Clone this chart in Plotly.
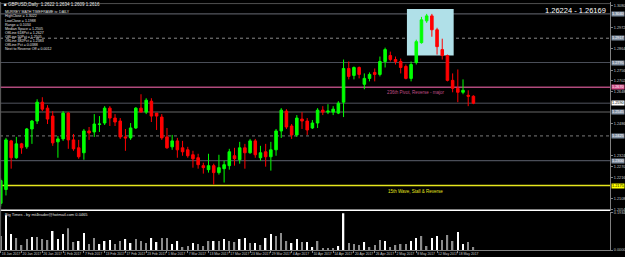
import plotly.graph_objects as go

# ---------------- data ----------------
opens = [1.2085,1.2155,1.2400,1.2315,1.2385,1.2370,1.2460,1.2500,1.2595,1.2565,
         1.2525,1.2395,1.2410,1.2540,1.2405,1.2365,1.2340,1.2450,1.2445,1.2483,
         1.2490,1.2565,1.2515,1.2500,1.2420,1.2415,1.2465,1.2565,1.2545,1.2600,
         1.2540,1.2520,1.2420,1.2370,1.2400,1.2365,1.2355,1.2330,1.2315,1.2275,
         1.2255,1.2275,1.2240,1.2260,1.2275,1.2325,1.2305,1.2365,1.2340,1.2400,
         1.2315,1.2345,1.2320,1.2355,1.2450,1.2550,1.2475,1.2430,1.2510,1.2500,
         1.2465,1.2490,1.2555,1.2545,1.2545,1.2540,1.2595,1.2765,1.2730,1.2770,
         1.2685,1.2715,1.2745,1.2735,1.2800,1.2830,1.2810,1.2800,1.2775,1.2715,
         1.2795,1.2895,1.3005,1.3030,1.2960,1.2860,1.2830,1.2705,1.2665,1.2645,
         1.2630,1.2625]
highs = [1.2210,1.2415,1.2405,1.2420,1.2390,1.2465,1.2505,1.2610,1.2620,1.2580,
         1.2550,1.2425,1.2550,1.2545,1.2435,1.2405,1.2460,1.2470,1.2535,1.2525,
         1.2575,1.2575,1.2535,1.2515,1.2460,1.2490,1.2570,1.2635,1.2615,1.2615,
         1.2540,1.2535,1.2465,1.2430,1.2415,1.2400,1.2370,1.2350,1.2335,1.2290,
         1.2335,1.2285,1.2330,1.2300,1.2360,1.2365,1.2395,1.2385,1.2410,1.2410,
         1.2375,1.2385,1.2395,1.2460,1.2565,1.2560,1.2485,1.2530,1.2545,1.2515,
         1.2505,1.2565,1.2575,1.2585,1.2575,1.2600,1.2810,1.2800,1.2775,1.2775,
         1.2740,1.2745,1.2765,1.2825,1.2870,1.2850,1.2825,1.2815,1.2785,1.2800,
         1.2910,1.3025,1.3040,1.3040,1.2970,1.2915,1.2835,1.2740,1.2760,1.2710,
         1.2655,1.2630]
lows = [1.2070,1.2125,1.2260,1.2310,1.2335,1.2360,1.2385,1.2485,1.2550,1.2485,
        1.2375,1.2315,1.2400,1.2360,1.2350,1.2310,1.2305,1.2405,1.2420,1.2445,
        1.2480,1.2475,1.2475,1.2410,1.2350,1.2405,1.2460,1.2545,1.2535,1.2495,
        1.2455,1.2405,1.2360,1.2355,1.2315,1.2325,1.2315,1.2265,1.2260,1.2235,
        1.2240,1.2180,1.2230,1.2190,1.2255,1.2275,1.2285,1.2260,1.2335,1.2315,
        1.2300,1.2270,1.2250,1.2325,1.2415,1.2460,1.2410,1.2420,1.2460,1.2430,
        1.2460,1.2465,1.2530,1.2535,1.2530,1.2535,1.2520,1.2710,1.2710,1.2715,
        1.2660,1.2700,1.2700,1.2725,1.2770,1.2800,1.2785,1.2740,1.2710,1.2700,
        1.2785,1.2890,1.2995,1.2925,1.2835,1.2810,1.2700,1.2645,1.2595,1.2635,
        1.2575,1.2585]
closes = [1.2200,1.2405,1.2315,1.2385,1.2365,1.2460,1.2500,1.2595,1.2560,1.2510,
          1.2390,1.2410,1.2540,1.2405,1.2360,1.2320,1.2450,1.2440,1.2485,1.2485,
          1.2565,1.2515,1.2495,1.2420,1.2415,1.2465,1.2565,1.2545,1.2605,1.2525,
          1.2525,1.2415,1.2365,1.2400,1.2355,1.2345,1.2325,1.2310,1.2280,1.2265,
          1.2275,1.2240,1.2265,1.2280,1.2345,1.2310,1.2365,1.2340,1.2400,1.2330,
          1.2340,1.2320,1.2355,1.2450,1.2555,1.2470,1.2430,1.2515,1.2500,1.2455,
          1.2490,1.2555,1.2545,1.2550,1.2560,1.2590,1.2765,1.2725,1.2770,1.2735,
          1.2715,1.2735,1.2735,1.2800,1.2860,1.2810,1.2800,1.2770,1.2715,1.2785,
          1.2900,1.3010,1.3030,1.2960,1.2875,1.2830,1.2705,1.2665,1.2645,1.2655,
          1.2625,1.2590]
volume = [0.0714,0.1785,0.0816,0.0612,0.0255,0.0561,0.0663,0.0663,0.0561,0.0510,
          0.0969,0.0561,0.0816,0.1122,0.0408,0.0459,0.0867,0.0306,0.0612,0.0306,
          0.0459,0.0510,0.0306,0.0459,0.0561,0.0357,0.0561,0.0459,0.0357,0.0612,
          0.0408,0.0612,0.0612,0.0306,0.0459,0.0153,0.0204,0.0357,0.0306,0.0204,
          0.0459,0.0459,0.0459,0.0561,0.0459,0.0408,0.0561,0.0612,0.0357,0.0357,
          0.0255,0.0612,0.0816,0.0714,0.0867,0.0459,0.0357,0.0561,0.0408,0.0408,
          0.0153,0.0459,0.0102,0.0102,0.0102,0.0204,0.1887,0.0357,0.0306,0.0255,
          0.0408,0.0153,0.0255,0.0510,0.0459,0.0153,0.0255,0.0306,0.0306,0.0459,
          0.0612,0.0714,0.0204,0.0612,0.0714,0.0510,0.0765,0.0459,0.0918,0.0306,
          0.0408,0.0153]
volume_up = [0,1,1,0,0,0,1,0,0,0, 1,1,1,0,0,1,1,0,0,1, 1,1,0,0,1,1,0,0,0,1,
             1,0,0,1,1,0,0,1,0,0, 0,1,0,1,0,0,1,1,0,1, 0,1,1,0,0,0,1,1,0,1,
             1,0,0,0,0,1,1,0,0,0, 1,0,0,0,1,0,0,0,0,1, 1,0,0,1,1,0,0,0,1,1,
             0,0]
date_labels = ["16 Jan 2017","20 Jan 2017","26 Jan 2017","1 Feb 2017","7 Feb 2017",
               "13 Feb 2017","17 Feb 2017","23 Feb 2017","1 Mar 2017","7 Mar 2017",
               "13 Mar 2017","17 Mar 2017","23 Mar 2017","29 Mar 2017","4 Apr 2017",
               "10 Apr 2017","14 Apr 2017","20 Apr 2017","26 Apr 2017","2 May 2017",
               "8 May 2017","12 May 2017","18 May 2017"]
date_bar_index = [0,4,8,12,16,20,24,28,32,36,40,44,48,52,56,60,64,68,72,76,80,84,88]
price_ticks = [1.3080,1.2972,1.2864,1.2756,1.2702,1.2648,
               1.2486,1.2324,1.2270,1.2216,1.2108,1.2054]
level_prices = [1.3092,1.3040,1.29175,1.2795,1.2670,1.2590,1.2545,1.2425,1.2300,1.2175,1.2050]
box_bars = [78.2, 87.2]
box_prices = [1.2830, 1.3065]
info_lines = ["MURREY MATH TIMEFRAME is: DAILY", "HighClose = 1.3022", "LowClose = 1.1988",
              "Range = 0.1034", "Median Space = 1.2505", "OffLine 618Pct = 1.2627",
              "OffLine 50Pct = 1.2505", "OffLine 382Pct = 1.2383", "OffLine Pct = 0.0388",
              "Next to Reverse Off = 0.0012"]

# ---------------- styles ----------------
level_style = [("#505050",1,"solid"),("#686c76",1,"solid"),("#8a8a8a",1,"dot"),
               ("#4a4e58",1,"solid"),("#b04a7c",1.5,"solid"),("#50545e",1,"solid"),
               ("#333333",2,"solid"),("#7a7a7a",1,"dot"),("#4a4e58",1.2,"solid"),
               ("#e6e61e",1.5,"solid"),("#ffffff",1.5,"solid")]
level_label = [None,("#7f8ea0","#ffffff"),("#7f8ea0","#ffffff"),("#7f8ea0","#ffffff"),
               ("#d0508a","#ffffff"),("#ffffff","#000000"),("#7f8ea0","#ffffff"),
               ("#7f8ea0","#ffffff"),("#7f8ea0","#ffffff"),("#ffff00","#000000"),None]

FONT = "Liberation Sans"
idx = list(range(len(opens)))
H_PLOT = 250.0

fig = go.Figure()
fig.add_trace(go.Candlestick(
    x=idx, open=opens, high=highs, low=lows, close=closes,
    increasing=dict(line=dict(color="#00ff00", width=1), fillcolor="#00ff00"),
    decreasing=dict(line=dict(color="#ff0000", width=1), fillcolor="#ff0000"),
    whiskerwidth=0, xaxis="x", yaxis="y", showlegend=False, hoverinfo="skip"))
fig.add_trace(go.Bar(
    x=idx, y=volume, width=0.28,
    marker=dict(color=["#ffffff" if u else "#8c8c8c" for u in volume_up], line=dict(width=0)),
    xaxis="x2", yaxis="y2", showlegend=False, hoverinfo="skip"))

shapes = []
for p, (c, w, d) in zip(level_prices, level_style):
    shapes.append(dict(type="line", xref="paper", x0=0, x1=1, yref="y", y0=p, y1=p,
                       line=dict(color=c, width=w, dash=d), layer="below"))
shapes.append(dict(type="rect", xref="x", yref="y", x0=box_bars[0], x1=box_bars[1],
                   y0=box_prices[0], y1=box_prices[1], fillcolor="#b0e0e8",
                   line=dict(width=0), layer="below"))
# left frame
shapes.append(dict(type="line", xref="paper", yref="paper", x0=0.001, x1=0.001, y0=0, y1=1,
                   line=dict(color="#606060", width=1)))

ann = []
for p, lab in zip(level_prices, level_label):
    if lab is None:
        continue
    ann.append(dict(xref="paper", yref="y", x=1, y=p, xanchor="left", yanchor="middle",
                    xshift=1, text=f"{p:.4f}", showarrow=False, bgcolor=lab[0],
                    font=dict(size=3.8, color=lab[1], family=FONT), borderpad=0))
# title line
ann.append(dict(xref="paper", yref="paper", x=2/612, y=(H_PLOT-3)/H_PLOT, xanchor="left",
                yanchor="middle", showarrow=False,
                text="\u25a0 GBPUSD,Daily  1.2622 1.2634 1.2609 1.2616",
                font=dict(size=4.5, color="#e8e8e8", family=FONT)))
for k, t in enumerate(info_lines):
    ypx = 10.5 + k * 4.1
    ann.append(dict(xref="paper", yref="paper", x=3/612, y=(H_PLOT-ypx)/H_PLOT, xanchor="left",
                    yanchor="middle", showarrow=False, text=t,
                    font=dict(size=3.6, color="#e0e0e0", family=FONT)))
ann.append(dict(xref="paper", yref="paper", x=610/612, y=(H_PLOT-8.5)/H_PLOT, xanchor="right",
                yanchor="middle", showarrow=False, text="1.26224 - 1.26169",
                font=dict(size=7.5, color="#ffffff", family=FONT)))
ann.append(dict(xref="x", yref="y", x=74.0, y=level_prices[4], xanchor="left", yanchor="top",
                yshift=-1, showarrow=False, text="236th Pivot, Reverse - major",
                font=dict(size=4.5, color="#c05088", family=FONT)))
ann.append(dict(xref="x", yref="y", x=74.2, y=level_prices[9], xanchor="left", yanchor="top",
                yshift=-1, showarrow=False, text="15th Wave, Stall & Reverse",
                font=dict(size=4.5, color="#e6e61e", family=FONT)))
ann.append(dict(xref="paper", yref="paper", x=3/612, y=(H_PLOT-214.5)/H_PLOT, xanchor="left",
                yanchor="middle", showarrow=False,
                text="Big Times - by mt4trader@hotmail.com 0.0465",
                font=dict(size=4, color="#e0e0e0", family=FONT)))

xr = [-0.15, 117.3]
fig.update_layout(
    width=625, height=257, margin=dict(l=0, r=13, t=0, b=7),
    paper_bgcolor="#000000", plot_bgcolor="#000000",
    showlegend=False, shapes=shapes, annotations=ann, boxgap=0.3,
    xaxis=dict(domain=[0, 1], anchor="y", range=xr, showticklabels=False, showgrid=False,
               zeroline=False, rangeslider=dict(visible=False), showline=False, fixedrange=True),
    yaxis=dict(domain=[(H_PLOT-211)/H_PLOT, 1], side="right", range=[1.2045, 1.3100],
               tickvals=price_ticks, ticktext=[f"{v:.4f}" for v in price_ticks],
               tickfont=dict(size=3.8, color="#c8c8c8", family=FONT), ticks="outside",
               ticklen=2, tickcolor="#808080", showgrid=False, zeroline=False,
               showline=True, linecolor="#808080", linewidth=1),
    xaxis2=dict(domain=[0, 1], anchor="y2", range=xr, tickvals=date_bar_index,
                ticktext=date_labels, tickfont=dict(size=3.4, color="#c8c8c8", family=FONT),
                tickangle=0, ticks="outside", ticklen=2, tickcolor="#808080",
                ticklabelposition="outside right",
                showgrid=False, zeroline=False, showline=True, linecolor="#808080", linewidth=1),
    yaxis2=dict(domain=[0, 38/H_PLOT], side="right", range=[0, 0.1934],
                tickvals=[0.1934, 0.0], ticktext=["0.1934", "0.0000"],
                tickfont=dict(size=3.8, color="#c8c8c8", family=FONT), ticks="outside",
                ticklen=2, tickcolor="#808080", showgrid=False, zeroline=False,
                showline=True, linecolor="#808080", linewidth=1),
)

fig.write_html("out.html")
